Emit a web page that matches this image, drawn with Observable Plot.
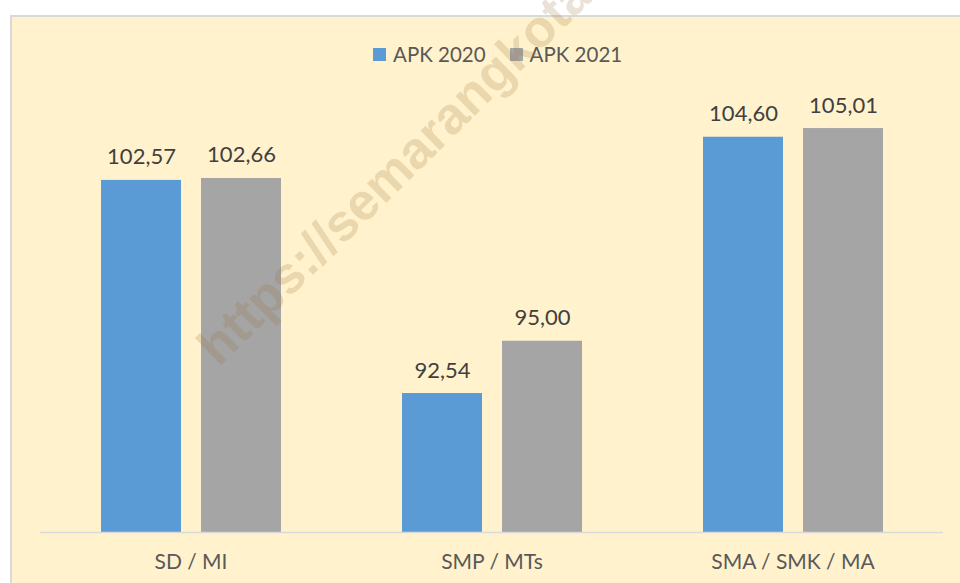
<!DOCTYPE html>
<html>
<head>
<meta charset="utf-8">
<script src="https://cdn.jsdelivr.net/npm/d3@7"></script>
<script src="https://cdn.jsdelivr.net/npm/@observablehq/plot@0.6"></script>
<style>
  html, body { margin: 0; padding: 0; background: #ffffff; }
  body { width: 960px; height: 583px; overflow: hidden; position: relative; font-family: Lato, "Open Sans", sans-serif; }
  #box { position: absolute; left: 10px; top: 15px; width: 1000px; height: 620px; background: #fff2cc; border: 2px solid #d9d9d9; box-sizing: border-box; }
  #chart { position: absolute; left: 0; top: 0; }
  #legend { position: absolute; left: 373px; top: 42px; display: flex; align-items: center; font-size: 20.5px; color: #595959; white-space: nowrap; }
  #legend .item { display: flex; align-items: center; margin-right: 24px; }
  #legend .sw { width: 13px; height: 13px; margin-right: 7px; }
  #wm { position: absolute; left: 188px; top: 336px; transform-origin: 0 0; transform: rotate(-44.5deg); font-family: "Liberation Sans", Arial, sans-serif; font-weight: bold; font-size: 52px; color: rgba(150,110,50,0.2); white-space: nowrap; pointer-events: none; line-height: 1; }
</style>
</head>
<body>
<div id="box"></div>
<div id="chart"></div>
<div id="legend"></div>
<div id="wm">https://semarangkota.go.id</div>
<script>
const categories = ["SD / MI", "SMP / MTs", "SMA / SMK / MA"];
const series = ["APK 2020", "APK 2021"];
const apk2020 = [102.57, 92.54, 104.60];
const apk2021 = [102.66, 95.00, 105.01];
const colors = ["#5b9bd5", "#a5a5a5"];
const yDomain = [86, 106];

const seriesValues = [apk2020, apk2021];
const rows = [];
categories.forEach((c, i) => {
  series.forEach((s, j) => rows.push({category: c, series: s, value: seriesValues[j][i]}));
});
const fmt = v => d3.format(".2f")(v).replace(".", ",");

const chart = Plot.plot({
  width: 960,
  height: 583,
  marginTop: 107,
  marginBottom: 51,
  marginLeft: 40,
  marginRight: 17,
  style: {background: "transparent", fontFamily: "Lato, 'Open Sans', sans-serif"},
  fx: {domain: categories, padding: 0, label: null},
  x: {domain: series, paddingInner: 0.2, paddingOuter: 0.605, axis: null},
  y: {domain: yDomain, clamp: true, axis: null},
  color: {domain: series, range: colors},
  marks: [
    Plot.barY(rows, {fx: "category", x: "series", y: "value", fill: "series"}),
    Plot.ruleY([yDomain[0]], {stroke: "#d9d9d9", strokeWidth: 1.5}),
    Plot.text(rows, {fx: "category", x: "series", y: "value", text: d => fmt(d.value), dy: -16, lineAnchor: "bottom", fontSize: 22, fill: "#404040"}),
    Plot.axisFx({anchor: "bottom", tickSize: 0, tickPadding: 22, fontSize: 21, fill: "#595959", label: null})
  ]
});
document.getElementById("chart").appendChild(chart);

const legend = document.getElementById("legend");
series.forEach((s, j) => {
  const item = document.createElement("div");
  item.className = "item";
  const sw = document.createElement("div");
  sw.className = "sw";
  sw.style.background = colors[j];
  const t = document.createElement("span");
  t.textContent = s;
  item.appendChild(sw);
  item.appendChild(t);
  legend.appendChild(item);
});
</script>
</body>
</html>
